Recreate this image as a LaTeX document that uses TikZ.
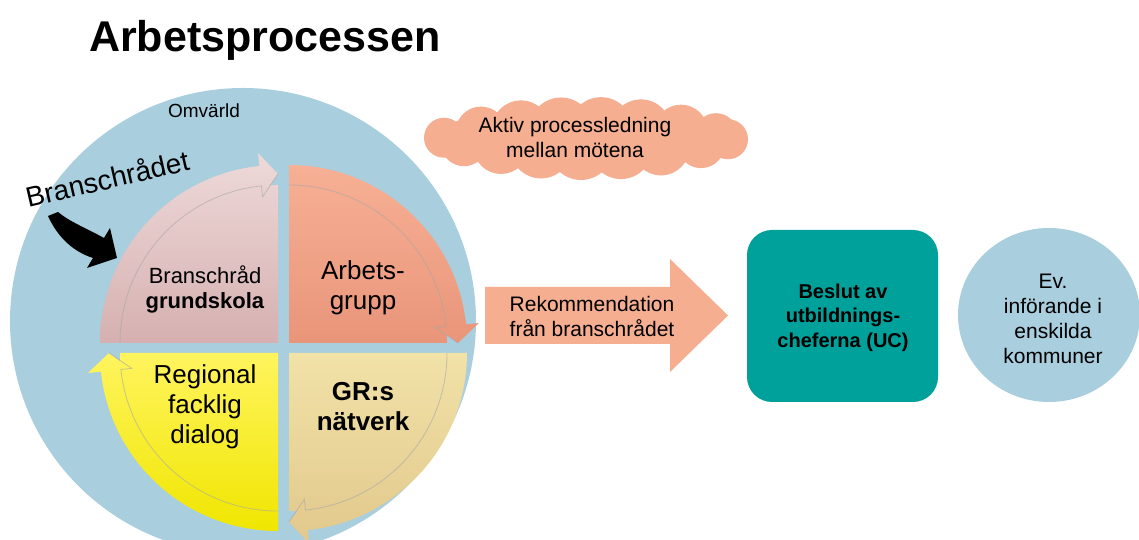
\documentclass[tikz,border=0pt]{standalone}
\usepackage{fontspec}
\setmainfont{Liberation Sans}
\usetikzlibrary{shapes.geometric,calc}
\definecolor{skyb}{HTML}{A9CEDE}
\definecolor{salm}{HTML}{F6AE91}
\definecolor{tealbox}{HTML}{00A19A}
\definecolor{pinkT}{HTML}{EED9D9}
\definecolor{pinkB}{HTML}{D6B0B0}
\definecolor{salT}{HTML}{F7B095}
\definecolor{salB}{HTML}{E9957A}
\definecolor{tanT}{HTML}{F1E2A8}
\definecolor{tanB}{HTML}{E2C88C}
\definecolor{yelT}{HTML}{FFF45E}
\definecolor{yelB}{HTML}{F0E600}
\tikzset{
  txt/.style={inner sep=0pt, align=center, text=black},
  bandline/.style={draw=black!35, line width=0.9pt, opacity=0.55},
}
\newcommand\quadpiece[6]{%
  \shade[top color=#5, bottom color=#6] (#1,#2) -- ($(#1,#2)+(#3:178)$)
    arc[start angle=#3, end angle={#4+6}, radius=178pt]
    -- ($(#1,#2)+({#4+6}:191)$) -- ($(#1,#2)+(#4:169)$)
    -- ($(#1,#2)+({#4+3}:158)$) arc[start angle={#4+3}, end angle=#4, radius=158pt] -- cycle;
  \draw[bandline] ($(#1,#2)+(#3:158)$) arc[start angle=#3, end angle={#4+6}, radius=158pt]
    -- ($(#1,#2)+({#4+6}:147)$) -- ($(#1,#2)+(#4:169)$);
}
\begin{document}
\begin{tikzpicture}[x=1pt,y=1pt]
\useasboundingbox (0,0) rectangle (1139,540);
\fill[white] (0,0) rectangle (1139,540);
\clip (0,0) rectangle (1139,540);
% world circle
\node[circle, fill=skyb, minimum size=466pt, inner sep=0pt] (omv) at (243,219) {};
\node[anchor=base west, inner sep=0pt, font=\fontsize{43}{48}\selectfont\bfseries] (title) at (89,488) {Arbetsprocessen};
\node[txt, font=\fontsize{19}{23}\selectfont] (omvlbl) at (204,429) {Omvärld};
% quadrants
\quadpiece{278}{197}{180}{90}{pinkT}{pinkB}
\quadpiece{289}{197}{90}{0}{salT}{salB}
\quadpiece{289}{187}{0}{-90}{tanT}{tanB}
\quadpiece{278}{187}{-90}{-180}{yelT}{yelB}
\node[txt, font=\fontsize{22}{25}\selectfont] (q1) at (205,251) {Branschråd\\\textbf{grundskola}};
\node[txt, font=\fontsize{26}{30}\selectfont] (q2) at (363,252) {Arbets-\\grupp};
\node[txt, font=\fontsize{26}{30}\selectfont] (q3) at (205,133) {Regional\\facklig\\dialog};
\node[txt, font=\fontsize{26}{30}\selectfont\bfseries] (q4) at (363,133) {GR:s\\nätverk};
% Branschrådet label and black arrow
\node[txt, rotate=13, font=\fontsize{28}{32}\selectfont] (br) at (107,362) {Branschrådet};
\fill[black] (48,324) .. controls (58,302) and (74,288) .. (93,282) -- (87,272) -- (117,282)
  -- (110,312) -- (104,302) .. controls (86,312) and (70,318) .. (58,328) -- cycle;
% cloud (drawn from shallow puffs)
\fill[salm] (586,401.5) ellipse[x radius=142pt, y radius=22pt];
\foreach \px in {-142,-105,-65,-25,15,55,95,130}{
  \pgfmathsetmacro\pr{20+12*(1-(\px/142)^2)}
  \pgfmathsetmacro\yc{41.5*sqrt(1-(\px/164)^2)-\pr}
  \fill[salm] (586+\px, 401.5+\yc) circle[radius=\pr pt];
}
\foreach \px in {-122,-85,-45,-5,35,75,115,142}{
  \pgfmathsetmacro\pr{20+12*(1-(\px/142)^2)}
  \pgfmathsetmacro\yc{41.5*sqrt(1-(\px/164)^2)-\pr}
  \fill[salm] (586+\px, 401.5-\yc) circle[radius=\pr pt];
}
\node[txt, font=\fontsize{21}{25}\selectfont] (cloudtxt) at (575,402.5) {Aktiv processledning\\mellan mötena};
% big arrow
\fill[salm] (485,253) -- (670,253) -- (670,281) -- (728,224.5) -- (670,168) -- (670,196) -- (485,196) -- cycle;
\node[txt, font=\fontsize{21}{25}\selectfont] (reco) at (592,223.5) {Rekommendation\\från branschrådet};
% decision box
\node[rectangle, rounded corners=25pt, fill=tealbox, minimum width=191pt, minimum height=172pt, inner sep=0pt] (uc) at (842.5,224) {};
\node[txt, font=\fontsize{20}{24.5}\selectfont\bfseries] (uctxt) at (843,222.5) {Beslut av\\utbildnings-\\cheferna (UC)};
% municipalities
\node[ellipse, fill=skyb, minimum width=182pt, minimum height=174pt, inner sep=0pt] (kom) at (1049,225) {};
\node[txt, font=\fontsize{21}{25}\selectfont] (komtxt) at (1053,221) {Ev.\\införande i\\enskilda\\kommuner};
\end{tikzpicture}
\end{document}
